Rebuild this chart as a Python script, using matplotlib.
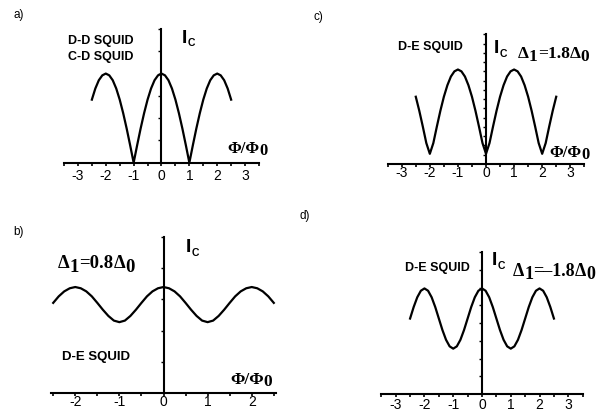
import numpy as np
import matplotlib
matplotlib.use("Agg")
import matplotlib.pyplot as plt

plt.rcParams["font.family"] = ["Liberation Sans", "DejaVu Sans"]

W, H = 605, 415

# flux grid, Phi/Phi0
phi = np.linspace(-2.5, 2.5, 41)

# critical current (arbitrary units)
ic_a = [2.83, 3.33, 3.70, 3.92, 4.00, 3.92, 3.70, 3.33, 2.83, 2.22, 1.53, 0.78, 0.00,
        0.78, 1.53, 2.22, 2.83, 3.33, 3.70, 3.92, 4.00, 3.92, 3.70, 3.33, 2.83, 2.22,
        1.53, 0.78, 0.00, 0.78, 1.53, 2.22, 2.83, 3.33, 3.70, 3.92, 4.00, 3.92, 3.70,
        3.33, 2.83]
ic_b = [2.89, 3.10, 3.26, 3.36, 3.40, 3.36, 3.26, 3.10, 2.89, 2.67, 2.47, 2.32, 2.27,
        2.32, 2.47, 2.67, 2.89, 3.10, 3.26, 3.36, 3.40, 3.36, 3.26, 3.10, 2.89, 2.67,
        2.47, 2.32, 2.27, 2.32, 2.47, 2.67, 2.89, 3.10, 3.26, 3.36, 3.40, 3.36, 3.26,
        3.10, 2.89]
ic_c = [3.63, 2.87, 2.02, 1.13, 0.55, 1.13, 2.02, 2.87, 3.63, 4.25, 4.72, 5.00, 5.10,
        5.00, 4.72, 4.25, 3.63, 2.87, 2.02, 1.13, 0.55, 1.13, 2.02, 2.87, 3.63, 4.25,
        4.72, 5.00, 5.10, 5.00, 4.72, 4.25, 3.63, 2.87, 2.02, 1.13, 0.55, 1.13, 2.02,
        2.87, 3.63]
ic_d = [4.26, 4.91, 5.46, 5.83, 5.96, 5.83, 5.46, 4.91, 4.26, 3.61, 3.06, 2.69, 2.56,
        2.69, 3.06, 3.61, 4.26, 4.91, 5.46, 5.83, 5.96, 5.83, 5.46, 4.91, 4.26, 3.61,
        3.06, 2.69, 2.56, 2.69, 3.06, 3.61, 4.26, 4.91, 5.46, 5.83, 5.96, 5.83, 5.46,
        4.91, 4.26]

SANS_B = dict(family="Liberation Sans", fontweight="bold")
SERIF_B = dict(family="Liberation Serif", fontweight="bold")


def px_axes(fig, l, t, r, b):
    return fig.add_axes([l / W, 1 - b / H, (r - l) / W, (b - t) / H])


def chain(ax, x, y, pieces):
    """Place text pieces one after another; each piece is (text, props, dx, dy)."""
    s, props, _, _ = pieces[0]
    prev = ax.text(x, y, s, va="baseline", ha="left", **props)
    for s, props, dx, dy in pieces[1:]:
        prev = ax.annotate(s, xy=(1, 0), xycoords=prev, xytext=(dx, dy),
                           textcoords="offset points", va="bottom", ha="left", **props)
    return prev


def setup(ax, xlim, ylim, xticks, yticks, xlabels, pad):
    ax.set_xlim(*xlim)
    ax.set_ylim(*ylim)
    for s in ("top", "right"):
        ax.spines[s].set_visible(False)
    ax.spines["left"].set_position(("data", 0))
    ax.spines["left"].set_linewidth(1.5)
    ax.spines["bottom"].set_linewidth(1.5)
    ax.set_xticks(xticks)
    ax.set_xticklabels(xlabels)
    ax.set_xticks(np.arange(xticks[0] - 0.5, xticks[-1] + 0.51, 0.5), minor=True)
    ax.set_yticks(yticks)
    ax.set_yticklabels([])
    ax.tick_params(axis="x", which="both", direction="out", length=2.5, width=1.2,
                   labelsize=10, pad=pad)
    ax.tick_params(axis="y", which="both", direction="out", length=2.5, width=1.0)
    ax.patch.set_visible(False)


def ic_label(ax, x, y):
    chain(ax, x, y, [("I", dict(SANS_B, fontsize=14), 0, 0),
                     ("C", dict(SANS_B, fontsize=7.5), 0.5, -1.2)])


def flux_label(ax, x, y, size=12):
    chain(ax, x, y, [("Φ/Φ", dict(SERIF_B, fontsize=size), 0, 0),
                     ("0", dict(SERIF_B, fontsize=size), -0.5, -1.5)])


def delta_label(ax, x, y, val, size=12.5):
    p = dict(SERIF_B, fontsize=size)
    chain(ax, x, y, [("Δ", p, 0, 0), ("1", p, 0, -2.5), ("=" + val, p, 0, 2.5),
                     ("Δ", p, 0, 0), ("0", p, 0, -2.5)])


fig = plt.figure(figsize=(W / 100, H / 100), dpi=100)

# a) D-D / C-D SQUID
ax = px_axes(fig, 64, 29, 259, 162.7)
setup(ax, (-3, 3), (0, 6), [-3, -2, -1, 0, 1, 2, 3], np.arange(1, 7),
      ["-3", "-2", "-1", "0", "1", "2", "3"], 2.3)
ax.plot(phi, ic_a, color="black", lw=1.6)
ax.text(-3.34, 5.48, "D-D SQUID", va="center", fontsize=9, **SANS_B)
ax.text(-3.34, 4.76, "C-D SQUID", va="center", fontsize=9, **SANS_B)
ic_label(ax, 0.72, 5.39)
flux_label(ax, 2.38, 0.43)

# c) D-E SQUID, Delta1 = 1.8 Delta0
ax = px_axes(fig, 387.7, 34.3, 584.3, 164)
setup(ax, (-3, 3), (0, 7), [-3, -2, -1, 0, 1, 2, 3], np.arange(0.5, 7.01, 0.5),
      ["-3", "-2", "-1", "0", "1", "2", "3"], -0.8)
ax.plot(phi, ic_c, color="black", lw=1.6)
ax.text(-3.13, 6.31, "D-E SQUID", va="center", fontsize=9, **SANS_B)
ic_label(ax, 0.28, 5.99)
delta_label(ax, 1.14, 5.72, "1.8", 12.5)
flux_label(ax, 2.27, 0.36)

# b) D-E SQUID, Delta1 = 0.8 Delta0
ax = px_axes(fig, 51, 237.3, 276, 392.7)
setup(ax, (-2.55, 2.55), (0, 5), [-2, -1, 0, 1, 2], np.arange(1, 5.01, 1),
      ["-2", "-1", "0", "1", "2"], -0.8)
ax.plot(phi, ic_b, color="black", lw=1.6)
ax.text(-2.30, 1.15, "D-E SQUID", va="center", fontsize=9.5, **SANS_B)
ic_label(ax, 0.5, 4.52)
delta_label(ax, -2.39, 4.0, "0.8", 13.5)
flux_label(ax, 1.52, 0.28, 12.5)

# d) D-E SQUID, Delta1 = -1.8 Delta0
ax = px_axes(fig, 381.3, 252.3, 582.7, 394)
setup(ax, (-3, 3), (0, 8), [-3, -2, -1, 0, 1, 2, 3], np.arange(1, 8.01, 1),
      ["-3", "-2", "-1", "0", "1", "2", "3"], 0.3)
ax.plot(phi, ic_d, color="black", lw=1.6)
ax.text(-2.68, 7.12, "D-E SQUID", va="center", fontsize=9, **SANS_B)
ic_label(ax, 0.33, 7.29)
delta_label(ax, 1.07, 6.67, "\u20131.8", 13)

for lab, x, y in [("a)", 13, 15), ("c)", 313, 17), ("b)", 13, 232), ("d)", 300, 216)]:
    fig.text(x / W, 1 - y / H, lab, va="center", ha="left", fontsize=8.5)

fig.savefig("out.png", dpi=100)
